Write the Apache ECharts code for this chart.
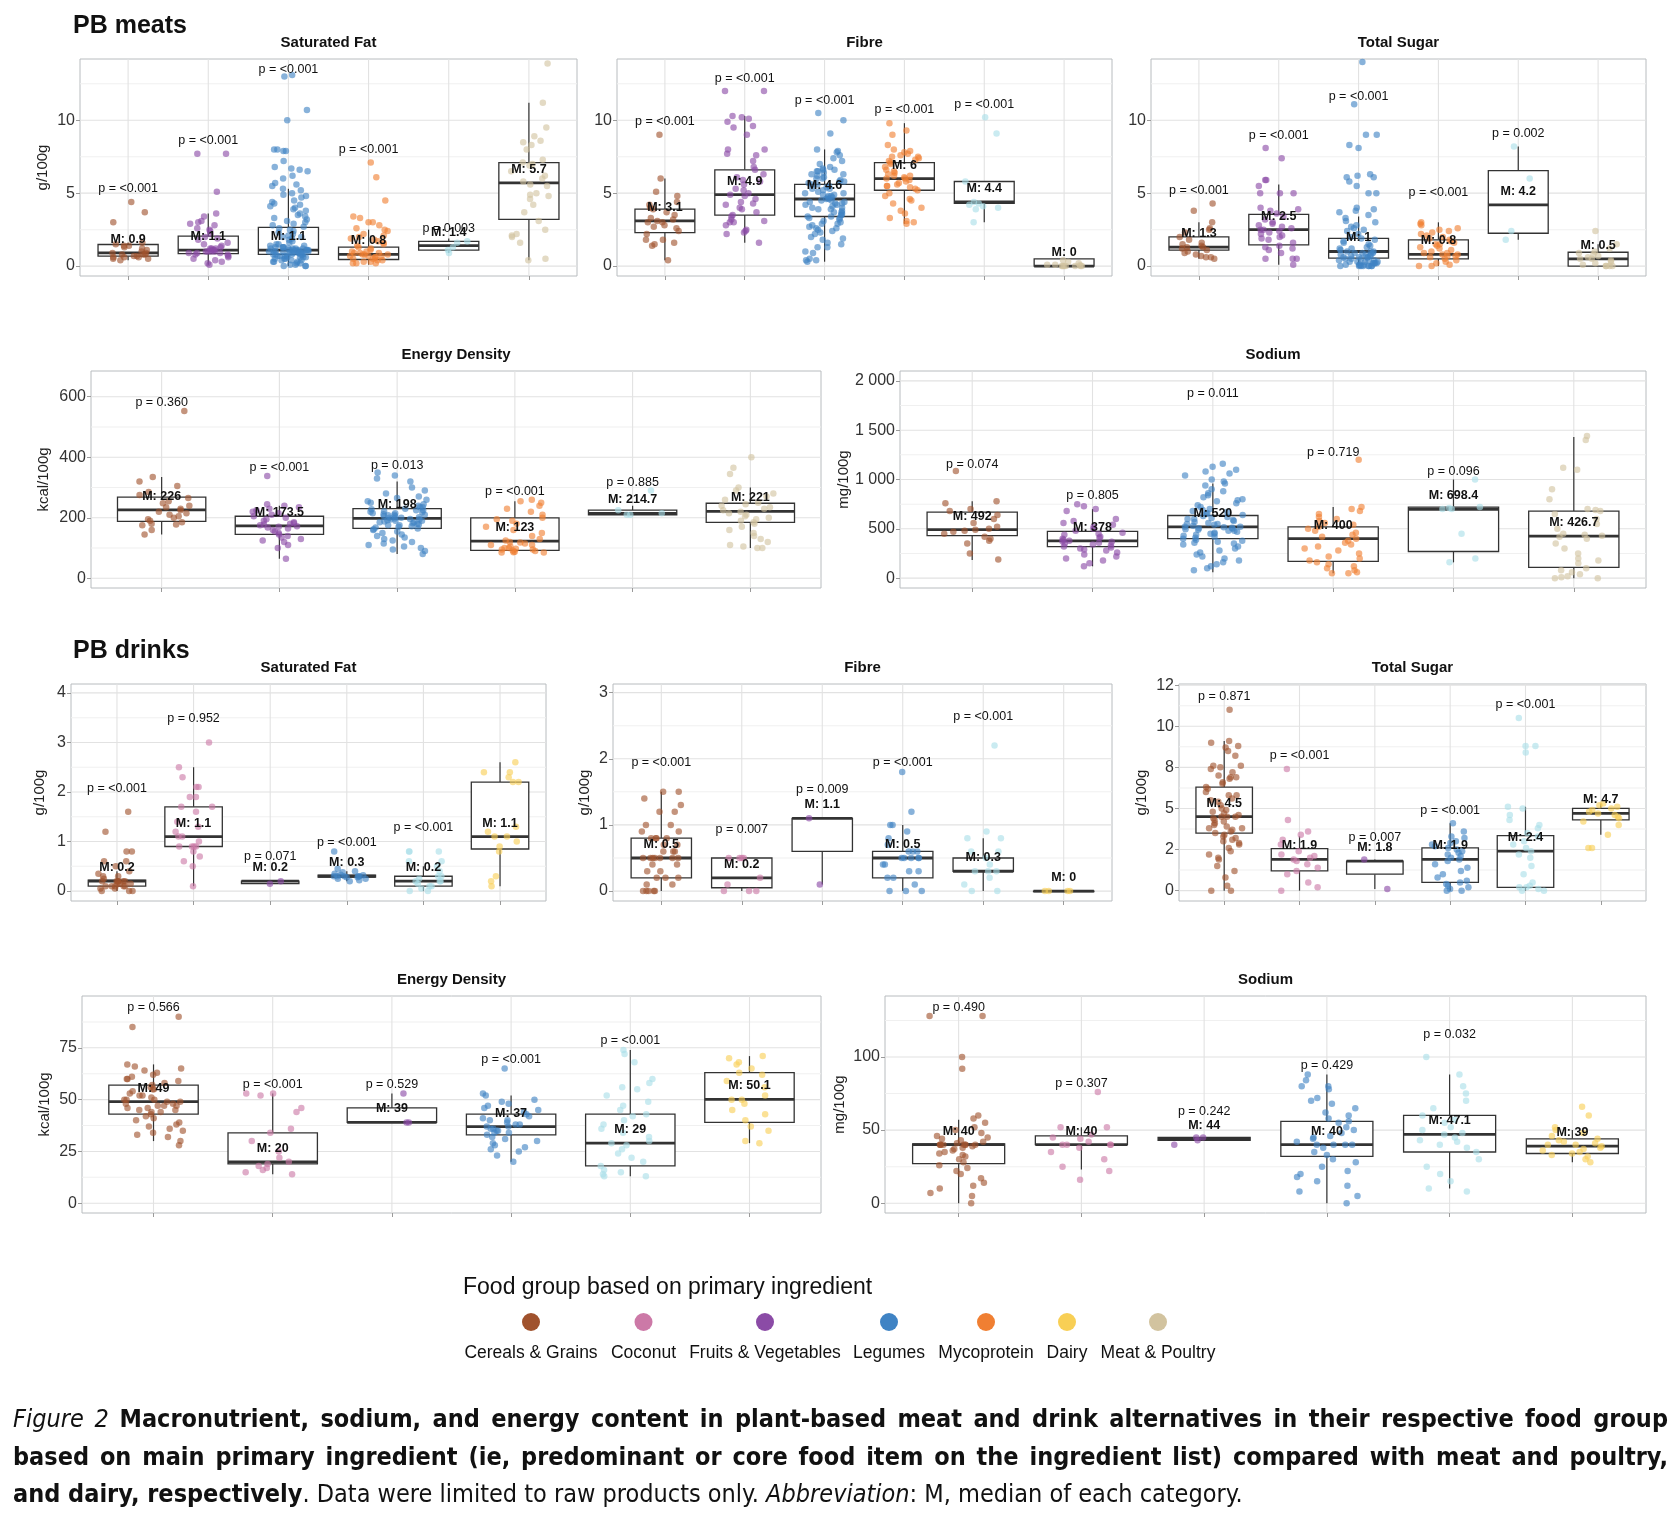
<!DOCTYPE html>
<html><head><meta charset="utf-8">
<script src="https://cdn.jsdelivr.net/npm/echarts@6/dist/echarts.min.js"></script>
<style>
html,body{margin:0;padding:0;background:#fff;}
#chart{position:absolute;left:0;top:0;width:1676px;height:1538px;}
#caption{position:absolute;left:13px;top:1400px;width:1655px;font-family:"DejaVu Sans Condensed","Liberation Sans Narrow","Roboto Condensed","DejaVu Sans",sans-serif;font-stretch:condensed;font-size:25px;line-height:37.5px;color:#111;}
#caption .cl{white-space:nowrap;}
#caption b{font-weight:bold;}
#caption i{font-style:italic;}
</style></head><body>
<div id="chart"></div>
<div id="caption">
<div class="cl j"><i>Figure 2</i> <b>Macronutrient, sodium, and energy content in plant-based meat and drink alternatives in their respective food group</b></div>
<div class="cl j"><b>based on main primary ingredient (ie, predominant or core food item on the ingredient list) compared with meat and poultry,</b></div>
<div class="cl"><b>and dairy, respectively</b>. Data were limited to raw products only. <i>Abbreviation</i>: M, median of each category.</div>
</div>
<script>
// ---------------- DATA ----------------
const meatGroups = ['Cereals & Grains','Fruits & Vegetables','Legumes','Mycoprotein','Nuts & Seeds','Meat & Poultry'];
const drinkGroups = ['Cereals & Grains','Coconut','Fruits & Vegetables','Legumes','Nuts & Seeds','Dairy'];
const legendGroups = ['Cereals & Grains','Coconut','Fruits & Vegetables','Legumes','Mycoprotein','Dairy','Meat & Poultry'];

// box stats: [lower whisker, Q1, median, Q3, upper whisker]
const meatSatFatBox = [[0.4,0.68,0.9,1.48,1.6],[0.1,0.85,1.1,2.05,3.6],[0,0.8,1.1,2.65,5.3],[0.1,0.45,0.8,1.3,2.5],[0.9,1.1,1.4,1.7,1.9],[0.4,3.2,5.7,7.1,11.2]];
const meatSatFatPts = [
 [4.4,3.7,3.0,1.6,1.5,1.4,1.3,1.2,1.1,1.0,0.9,0.9,0.8,0.8,0.7,0.7,0.6,0.6,0.5,0.5,0.4,0.8,1.4,0.6],
 [7.7,7.7,5.1,3.6,3.4,3.1,3.0,2.9,2.8,2.6,2.5,2.4,2.2,2.0,1.9,1.8,1.6,1.5,1.4,1.3,1.2,1.2,1.1,1.1,1.1,1.0,1.0,1.0,0.9,0.9,0.9,0.8,0.8,0.7,0.6,0.5,0.4,0.3,0.2,0.1,1.0,1.2],
 [13.1,13.0,10.7,10.0,8.0,8.0,7.9,7.9,7.2,6.8,6.7,6.6,6.5,6.2,6.0,5.7,5.6,5.5,5.3,5.2,5.0,4.9,4.8,4.7,4.5,4.4,4.3,4.2,4.1,4.0,3.9,3.8,3.6,3.5,3.4,3.3,3.2,3.1,3.0,2.9,2.8,2.7,2.6,2.5,2.4,2.3,2.2,2.1,2.0,2.0,1.9,1.8,1.7,1.6,1.5,1.5,1.4,1.4,1.3,1.3,1.3,1.2,1.2,1.2,1.2,1.1,1.1,1.1,1.1,1.1,1.0,1.0,1.0,1.0,1.0,1.0,0.9,0.9,0.9,0.9,0.9,0.8,0.8,0.8,0.8,0.8,0.7,0.7,0.7,0.7,0.6,0.6,0.6,0.6,0.5,0.5,0.5,0.4,0.4,0.4,0.3,0.3,0.3,0.2,0.2,0.1,0.1,0.0,0.0,0.0,1.1,1.0,0.9,1.2,1.3,0.8,1.1,1.0],
 [7.1,6.1,4.5,3.4,3.3,3.0,3.0,2.8,2.6,2.5,2.4,2.2,2.1,2.0,1.9,1.8,1.7,1.6,1.5,1.4,1.3,1.2,1.1,1.0,1.0,0.9,0.9,0.8,0.8,0.8,0.7,0.7,0.6,0.6,0.5,0.5,0.4,0.4,0.3,0.3,0.2,0.2,0.2,0.9,0.7],
 [1.7,1.6,1.3,1.1,0.9],
 [13.9,11.2,9.5,8.9,8.6,8.5,8.3,8.0,7.3,7.1,7.0,6.9,6.5,6.2,6.0,5.8,5.6,5.5,5.0,4.9,4.8,4.6,4.2,3.7,3.1,2.5,2.2,2.1,2.0,1.6,0.5,0.4]
];
const meatSatFatP = ['p = <0.001','p = <0.001','p = <0.001','p = <0.001','p = 0.003',''];
const meatSatFatPAt = [5.35,8.6,13.45,8.0,2.55,null];

const meatFibreBox = [[0.4,2.3,3.1,3.9,6.0],[1.6,3.5,4.9,6.6,10.3],[0.3,3.4,4.6,5.6,8.0],[2.9,5.2,6.0,7.1,9.8],[3.0,4.3,4.4,5.8,5.8],[0,0,0,0.5,0.5]];
const meatFibrePts = [
 [9.0,6.0,5.1,4.8,4.4,4.2,4.0,3.9,3.7,3.5,3.3,3.2,3.1,3.0,3.0,2.8,2.7,2.6,2.4,2.2,1.8,1.8,1.6,1.5,1.4,0.4],
 [12.0,12.0,10.3,10.2,10.1,9.9,9.6,9.5,9.0,8.0,8.0,7.7,7.6,7.2,6.8,6.6,6.3,6.1,5.9,5.6,5.3,5.2,5.0,4.9,4.8,4.6,4.4,4.2,4.0,3.9,3.7,3.5,3.4,3.2,3.1,3.0,3.0,2.8,2.5,2.4,2.3,2.2,1.6,4.3,5.8],
 [10.5,10.0,9.1,8.0,7.9,7.8,7.6,7.4,7.2,7.0,6.8,6.7,6.6,6.5,6.5,6.4,6.3,6.2,6.1,6.0,6.0,5.9,5.8,5.7,5.6,5.6,5.5,5.4,5.3,5.2,5.1,5.0,5.0,4.9,4.9,4.8,4.7,4.7,4.6,4.6,4.5,4.5,4.4,4.4,4.3,4.2,4.2,4.1,4.0,4.0,3.9,3.8,3.7,3.7,3.6,3.5,3.5,3.4,3.3,3.3,3.2,3.1,3.0,2.9,2.8,2.7,2.6,2.5,2.4,2.3,2.2,2.0,1.9,1.8,1.6,1.5,1.3,1.3,1.0,0.9,0.5,0.4,0.4,0.3,6.6,6.3,5.8,5.3,4.8,4.3,3.9,3.4,2.9,2.6],
 [9.8,9.3,9.0,8.3,8.0,7.9,7.8,7.7,7.6,7.5,7.4,7.3,7.2,7.1,7.0,6.8,6.6,6.5,6.4,6.3,6.2,6.1,6.0,6.0,5.9,5.8,5.7,5.6,5.5,5.4,5.3,5.2,5.0,4.8,4.6,4.5,4.3,4.0,3.8,3.6,3.3,3.1,3.0,2.9,6.2,5.5,7.5],
 [10.2,9.1,5.8,4.4,4.3,4.2,4.1,4.0,3.9,3.0],
 [0.4,0.3,0.2,0.1,0.1,0,0,0,0,0,0,0,0.05]
];
const meatFibreP = ['p = <0.001','p = <0.001','p = <0.001','p = <0.001','p = <0.001',''];
const meatFibrePAt = [9.9,12.85,11.35,10.7,11.05,null];

const meatSugarBox = [[0.5,1.1,1.3,2.0,3.0],[0.1,1.45,2.5,3.55,5.6],[0,0.55,1.0,1.9,3.4],[0,0.5,0.8,1.8,3.0],[1.8,2.25,4.2,6.55,8.2],[0,0,0.5,0.95,1.5]];
const meatSugarPts = [
 [4.3,3.8,3.0,2.6,2.5,2.3,2.0,1.8,1.6,1.5,1.4,1.3,1.3,1.2,1.1,1.0,0.9,0.8,0.7,0.6,0.6,0.5],
 [8.1,7.4,5.9,5.9,5.5,5.0,5.0,5.0,4.0,3.9,3.8,3.6,3.4,3.2,3.0,2.9,2.8,2.7,2.6,2.5,2.5,2.4,2.3,2.2,2.1,2.0,1.9,1.8,1.6,1.4,1.3,1.2,1.1,0.9,0.5,0.5,0.5,0.1],
 [14.0,11.1,9.0,9.0,8.3,8.1,6.3,6.2,6.1,6.1,5.8,5.5,5.0,5.0,4.0,3.9,3.8,3.7,3.5,3.3,3.1,3.0,2.8,2.7,2.6,2.5,2.4,2.2,2.0,1.9,1.8,1.7,1.6,1.5,1.4,1.3,1.2,1.1,1.0,1.0,0.9,0.9,0.8,0.8,0.7,0.7,0.6,0.6,0.5,0.5,0.4,0.4,0.3,0.3,0.2,0.2,0.1,0.1,0,0,0,0,0,0,0,0.1,0.2,0.3,0.5,0.6,0.8,1.0,1.2,0.4,0.2,0.1,0,0.3,0.6,0.9],
 [3.0,2.9,2.8,2.6,2.5,2.4,2.3,2.2,2.0,1.9,1.8,1.7,1.6,1.5,1.4,1.3,1.2,1.1,1.0,0.9,0.9,0.8,0.8,0.7,0.6,0.5,0.4,0.3,0.2,0.1,0,0,2.1,1.5,0.7],
 [8.2,6.0,2.4,1.8],
 [2.4,1.5,1.2,1.0,0.9,0.8,0.7,0.6,0.5,0.5,0.4,0.3,0.2,0.1,0,0,0,0]
];
const meatSugarP = ['p = <0.001','p = <0.001','p = <0.001','p = <0.001','p = 0.002',''];
const meatSugarPAt = [5.15,8.95,11.6,5.05,9.1,null];

const meatEnergyBox = [[145,188,226,268,335],[65,145,173.5,205,240],[80,165,198,230,320],[85,92,123,200,255],[210,210,214.7,225,240],[100,185,221,248,300]];
const meatEnergyPts = [
 [553,335,320,305,285,275,265,255,248,240,235,230,225,220,215,210,205,200,195,190,185,180,178,175,160,145],
 [338,245,240,235,230,225,220,215,210,205,200,195,190,185,180,178,175,172,170,165,160,155,150,145,140,135,130,125,120,110,100,65,168,182],
 [350,340,330,320,300,290,280,270,265,260,255,250,245,240,235,230,228,225,222,220,218,215,212,210,208,205,202,200,198,196,194,192,190,188,185,182,180,178,175,172,170,168,165,162,160,155,150,145,140,135,130,125,120,115,110,105,100,95,90,80,215,205,195,185,175,225,235,200,190,210],
 [260,255,250,240,230,220,210,200,195,190,180,170,160,150,140,130,125,120,118,115,110,105,100,98,95,92,90,88,86,85,85,95,100,110],
 [290,225,215,210,210],
 [400,365,345,300,290,280,270,260,250,245,240,235,230,225,220,215,210,205,200,195,190,185,180,170,160,150,140,130,120,110,105,100,100]
];
const meatEnergyP = ['p = 0.360','p = <0.001','p = 0.013','p = <0.001','p = 0.885',''];
const meatEnergyPAt = [582,366,372,286,316,null];

const meatSodiumBox = [[185,430,492,670,780],[120,320,378,475,700],[60,400,520,635,960],[50,170,400,520,720],[160,270,698.4,720,1000],[0,110,426.7,680,1430]];
const meatSodiumPts = [
 [1085,780,760,700,680,640,600,560,520,500,490,480,470,450,420,400,380,350,250,190],
 [750,730,700,680,600,580,560,540,520,500,480,460,450,440,420,410,400,390,380,375,370,360,350,340,330,320,310,300,290,280,260,240,220,200,180,150,120],
 [1160,1130,1100,1080,1060,1040,1000,980,960,940,900,880,860,840,820,800,790,780,760,740,720,700,690,680,670,660,650,640,630,620,610,600,590,580,570,560,550,540,530,520,515,510,505,500,495,490,480,470,460,450,440,430,420,410,400,390,380,370,360,350,340,320,300,280,260,240,220,200,180,160,140,120,100,80,550,520,480,600,450],
 [1200,720,700,680,650,620,600,580,560,540,520,500,480,460,440,420,400,380,360,340,320,300,280,250,220,200,180,160,140,120,100,80,60,50,50],
 [1000,720,710,700,700,450,200,160],
 [1440,1400,1120,1100,900,800,700,690,680,650,600,550,500,450,440,430,420,400,350,300,250,200,180,150,100,80,60,40,20,10,0,0]
];
const meatSodiumP = ['p = 0.074','p = 0.805','p = 0.011','p = 0.719','p = 0.096',''];
const meatSodiumPAt = [1155,842,1876,1278,1081,null];

const drinkSatFatBox = [[0,0.1,0.2,0.22,0.4],[0.1,0.9,1.1,1.7,2.5],[0.15,0.15,0.2,0.2,0.2],[0.2,0.28,0.3,0.32,0.4],[0,0.1,0.2,0.3,0.5],[0.1,0.85,1.1,2.2,2.6]];
const drinkSatFatPts = [
 [1.6,1.2,0.8,0.8,0.6,0.6,0.5,0.4,0.35,0.3,0.3,0.25,0.2,0.2,0.2,0.2,0.15,0.15,0.1,0.1,0.1,0.1,0.05,0.05,0,0,0,0.2,0.15,0.1,0.2],
 [3.0,2.5,2.3,2.1,2.1,1.9,1.9,1.7,1.7,1.6,1.4,1.3,1.2,1.1,1.1,1.0,0.9,0.9,0.9,0.9,0.8,0.7,0.6,0.5,0.1],
 [0.2,0.15],
 [0.8,0.45,0.4,0.38,0.35,0.33,0.32,0.3,0.3,0.3,0.3,0.3,0.28,0.28,0.25,0.25,0.22,0.2],
 [0.8,0.8,0.8,0.6,0.6,0.5,0.4,0.3,0.3,0.25,0.2,0.2,0.2,0.15,0.1,0.1,0.05,0,0],
 [2.6,2.4,2.4,2.3,2.2,2.2,1.3,1.2,1.1,1.1,1.0,0.9,0.8,0.3,0.2,0.1]
];
const drinkSatFatP = ['p = <0.001','p = 0.952','p = 0.071','p = <0.001','p = <0.001',''];
const drinkSatFatPAt = [2.07,3.49,0.7,0.98,1.29,null];

const drinkFibreBox = [[0,0.2,0.5,0.8,1.5],[0,0.05,0.2,0.5,0.5],[0.1,0.6,1.1,1.1,1.1],[0,0.2,0.5,0.6,1.0],[0,0.3,0.3,0.5,0.8],[0,0,0,0,0]];
const drinkFibrePts = [
 [1.5,1.5,1.4,1.3,1.2,1.2,1.0,1.0,0.9,0.9,0.8,0.8,0.8,0.8,0.7,0.7,0.6,0.6,0.6,0.5,0.5,0.5,0.5,0.5,0.4,0.4,0.3,0.3,0.2,0.2,0.2,0.1,0.1,0,0,0,0,0,0.5,0.5],
 [0.5,0.5,0.5,0.5,0.2,0.1,0,0,0],
 [1.1,0.1],
 [1.8,1.2,1.0,1.0,0.9,0.8,0.7,0.6,0.6,0.6,0.5,0.5,0.5,0.5,0.5,0.4,0.4,0.3,0.3,0.2,0.2,0.1,0,0,0],
 [2.2,0.9,0.8,0.8,0.6,0.6,0.5,0.4,0.3,0.3,0.3,0.2,0.1,0,0],
 [0,0,0,0]
];
const drinkFibreP = ['p = <0.001','p = 0.007','p = 0.009','p = <0.001','p = <0.001',''];
const drinkFibrePAt = [1.94,0.93,1.53,1.94,2.64,null];

const drinkSugarBox = [[0,3.5,4.5,6.3,9.1],[0,1.2,1.9,2.55,3.3],[0.1,1.0,1.8,1.8,1.9],[0,0.5,1.9,2.6,4.1],[0,0.2,2.4,3.35,5.1],[3.4,4.3,4.7,5.0,5.3]];
const drinkSugarPts = [
 [11.0,9.1,9.0,8.8,8.7,8.5,8.2,7.6,7.6,7.5,7.4,7.2,7.0,6.9,6.8,6.6,6.5,6.3,6.2,6.0,5.8,5.6,5.5,5.4,5.2,5.0,4.9,4.8,4.7,4.6,4.5,4.5,4.4,4.3,4.2,4.1,4.0,3.9,3.8,3.7,3.6,3.5,3.4,3.3,3.2,3.1,3.0,2.9,2.8,2.6,2.4,2.2,2.0,1.9,1.5,1.2,0.8,0.3,0,0,4.5,3.8,5.8,6.9],
 [7.4,4.3,3.6,3.4,3.1,2.8,2.4,2.2,2.1,2.0,1.9,1.8,1.6,1.4,1.2,1.0,0.5,0.2,0],
 [1.9,0.1],
 [4.1,3.6,3.3,3.2,3.0,2.9,2.8,2.7,2.6,2.5,2.4,2.3,2.2,2.1,2.0,1.9,1.8,1.6,1.4,1.2,1.0,0.8,0.6,0.5,0.4,0.3,0.2,0.1,0,0],
 [10.5,8.8,8.8,8.4,5.1,5.0,4.6,4.3,4.0,3.8,3.5,3.3,3.0,2.8,2.6,2.4,2.2,2.0,1.5,1.0,0.5,0.3,0.2,0.2,0.1,0,0],
 [5.3,5.2,5.1,5.0,4.9,4.8,4.7,4.6,4.5,4.4,4.2,4.0,3.4,2.6,2.6]
];
const drinkSugarP = ['p = 0.871','p = <0.001','p = 0.007','p = <0.001','p = <0.001',''];
const drinkSugarPAt = [11.8,8.2,3.2,4.9,11.3,null];

const drinkEnergyBox = [[30,43,49,57,67],[14,19,20,34,53],[39,39,39,46,53],[20,33,37,43,52],[13,18,29,43,74],[29,39,50.1,63,71]];
const drinkEnergyPts = [
 [90,85,67,66,65,64,63,62,61,60,59,58,57,56,55,54,53,52,51,50,50,49,49,48,48,47,47,46,46,45,45,44,44,43,42,41,40,39,38,37,36,35,34,33,32,30,28,50,52,47,55,60],
 [53,53,52,46,44,36,34,30,25,22,20,19,18,17,16,15,14],
 [53,39,39],
 [65,53,52,50,49,48,47,46,45,44,43,42,41,40,40,39,38,38,37,37,36,36,35,35,34,34,33,32,31,30,29,28,27,26,25,23,20],
 [74,72,68,60,58,56,55,52,49,47,45,43,42,40,38,36,34,32,30,29,28,26,24,22,20,18,16,15,14,13,13],
 [71,70,68,67,65,63,62,59,56,52,50,50,48,45,43,40,37,35,30,29]
];
const drinkEnergyP = ['p = 0.566','p = <0.001','p = 0.529','p = <0.001','p = <0.001',''];
const drinkEnergyPAt = [94.4,57.3,57.3,69.4,78.5,null];

const drinkSodiumBox = [[0,27,40,40.5,57],[23,40,40,46,52],[43,43,44,45,45],[0,32,40,56,88],[10,35,47.1,60,88],[28,34,39,44,50]];
const drinkSodiumPts = [
 [128,128,100,92,60,58,55,52,50,48,46,45,44,43,42,41,40,40,40,40,40,39,38,37,36,35,34,33,32,30,28,26,24,22,20,17,14,12,10,7,5,0,40,40,40],
 [76,52,52,47,45,44,42,40,40,40,40,38,35,30,25,22,16],
 [45,45,43,40],
 [88,84,80,80,78,72,70,68,65,62,60,58,56,55,52,50,48,46,45,44,42,40,40,40,40,38,35,33,30,28,25,22,20,18,15,12,8,5,0],
 [100,88,80,75,70,65,60,57,55,52,50,48,47,45,43,42,40,38,35,30,25,20,15,10,8],
 [66,60,52,50,48,46,44,43,42,41,40,40,39,38,37,36,35,34,33,32,30,28]
];
const drinkSodiumP = ['p = 0.490','p = 0.307','p = 0.242','p = 0.429','p = 0.032',''];
const drinkSodiumPAt = [134,81.8,62.5,94.3,115,null];

// axis ticks / labels
const gTicks = [0,5,10];
const meatEnergyTicks = [0,200,400,600];
const meatSodiumTicks = [0,500,1000,1500,2000];
const drinkSatFatTicks = [0,1,2,3,4];
const drinkFibreTicks = [0,1,2,3];
const drinkSugarTicks = [0,2.5,5,7.5,10,12.5];
const drinkSugarTickLabels = ['0','2','5','8','10','12'];
const drinkEnergyTicks = [0,25,50,75];
const drinkSodiumTicks = [0,50,100];

// ---------------- STYLE / LAYOUT ----------------
const groupColor = {
  'Cereals & Grains':'#A0522D','Coconut':'#CC79A7','Fruits & Vegetables':'#8B4BA6',
  'Legumes':'#3F83C4','Mycoprotein':'#F07F32','Dairy':'#F8CF55',
  'Meat & Poultry':'#D2C39F','Nuts & Seeds':'#A9DFE8'
};
const FONT = '"Liberation Sans", Arial, Helvetica, sans-serif';

function sodiumFmt(v){ return v >= 1000 ? Math.floor(v/1000) + ' ' + String(v%1000).padStart(3,'0') : String(v); }

const panels = [
 {title:'Saturated Fat', unit:'g/100g', showName:true, groups:meatGroups, box:meatSatFatBox, pts:meatSatFatPts, p:meatSatFatP, pAt:meatSatFatPAt, yMin:-0.68, yMax:14.2, ticks:gTicks, rect:[80,59,497,217], nameGap:30},
 {title:'Fibre', unit:'g/100g', showName:false, groups:meatGroups, box:meatFibreBox, pts:meatFibrePts, p:meatFibreP, pAt:meatFibrePAt, yMin:-0.68, yMax:14.2, ticks:gTicks, rect:[617,59,495,217], nameGap:30},
 {title:'Total Sugar', unit:'g/100g', showName:false, groups:meatGroups, box:meatSugarBox, pts:meatSugarPts, p:meatSugarP, pAt:meatSugarPAt, yMin:-0.68, yMax:14.2, ticks:gTicks, rect:[1151,59,495,217], nameGap:30},
 {title:'Energy Density', unit:'kcal/100g', showName:true, groups:meatGroups, box:meatEnergyBox, pts:meatEnergyPts, p:meatEnergyP, pAt:meatEnergyPAt, yMin:-32, yMax:685, ticks:meatEnergyTicks, rect:[91,371,730,217], nameGap:40},
 {title:'Sodium', unit:'mg/100g', showName:true, groups:meatGroups, box:meatSodiumBox, pts:meatSodiumPts, p:meatSodiumP, pAt:meatSodiumPAt, yMin:-100, yMax:2100, ticks:meatSodiumTicks, fmt:sodiumFmt, rect:[900,371,746,217], nameGap:46},
 {title:'Saturated Fat', unit:'g/100g', showName:true, groups:drinkGroups, box:drinkSatFatBox, pts:drinkSatFatPts, p:drinkSatFatP, pAt:drinkSatFatPAt, yMin:-0.2, yMax:4.18, ticks:drinkSatFatTicks, rect:[71,684,475,217], nameGap:24},
 {title:'Fibre', unit:'g/100g', showName:true, groups:drinkGroups, box:drinkFibreBox, pts:drinkFibrePts, p:drinkFibreP, pAt:drinkFibrePAt, yMin:-0.15, yMax:3.13, ticks:drinkFibreTicks, rect:[613,684,499,217], nameGap:21},
 {title:'Total Sugar', unit:'g/100g', showName:true, groups:drinkGroups, box:drinkSugarBox, pts:drinkSugarPts, p:drinkSugarP, pAt:drinkSugarPAt, yMin:-0.63, yMax:12.57, ticks:drinkSugarTicks, labels:drinkSugarTickLabels, rect:[1179,684,467,217], nameGap:30},
 {title:'Energy Density', unit:'kcal/100g', showName:true, groups:drinkGroups, box:drinkEnergyBox, pts:drinkEnergyPts, p:drinkEnergyP, pAt:drinkEnergyPAt, yMin:-4.7, yMax:100, ticks:drinkEnergyTicks, rect:[82,996,739,217], nameGap:30},
 {title:'Sodium', unit:'mg/100g', showName:true, groups:drinkGroups, box:drinkSodiumBox, pts:drinkSodiumPts, p:drinkSodiumP, pAt:drinkSodiumPAt, yMin:-6.7, yMax:141.7, ticks:drinkSodiumTicks, rect:[885,996,761,217], nameGap:38}
];

function jitter(k, i, j){
  const s = Math.sin((k*131.7 + i*17.3 + j*7.13 + 1.1) * 12.9898) * 43758.5453;
  return ((s - Math.floor(s)) - 0.5) * 0.5;
}
function fmtMedian(v){ return 'M: ' + String(+v.toFixed(1)); }

function minorsOf(ticks, lo, hi){
  const out = [];
  const step = ticks[1]-ticks[0];
  const all = [ticks[0]-step].concat(ticks, [ticks[ticks.length-1]+step]);
  for (let a=0; a<all.length-1; a++){ const m=(all[a]+all[a+1])/2; if (m>lo && m<hi) out.push(m); }
  return out;
}

const grids=[], xAxes=[], yAxes=[], series=[], graphics=[];

panels.forEach((pn, k) => {
  const [L,T,W,H] = pn.rect;
  grids.push({left:L, top:T, width:W, height:H, show:true, borderColor:'#b8bcbf', borderWidth:1, backgroundColor:'#ffffff'});
  xAxes.push({gridIndex:k, type:'value', position:'bottom', min:-0.6, max:5.6, axisLine:{show:false, onZero:false}, axisLabel:{show:false}, splitLine:{show:false},
    axisTick:{show:true, customValues:[0,1,2,3,4,5], length:4, lineStyle:{color:'#9a9a9a'}}});
  yAxes.push({gridIndex:k, type:'value', position:'left', min:pn.yMin, max:pn.yMax,
    name: pn.showName ? pn.unit : '', nameLocation:'middle', nameGap:pn.nameGap, nameRotate:90,
    nameTextStyle:{fontFamily:FONT, fontSize:15, color:'#222'},
    axisLine:{show:false, onZero:false}, splitLine:{show:false},
    axisTick:{show:true, customValues:pn.ticks, length:4, lineStyle:{color:'#9a9a9a'}},
    axisLabel:{customValues:pn.ticks, fontFamily:FONT, fontSize:16, color:'#333', margin:5,
      formatter:(v)=>{ if (pn.labels){ const ix = pn.ticks.indexOf(v); return ix>=0 ? pn.labels[ix] : ''; } return pn.fmt ? pn.fmt(v) : String(v); }}});

  // background grid lines drawn as thin filled rects
  const majors = pn.ticks, minors = minorsOf(pn.ticks, pn.yMin, pn.yMax);
  series.push({type:'custom', xAxisIndex:k, yAxisIndex:k, z:1, silent:true, data:[[2.5, (pn.yMin+pn.yMax)/2]],
    renderItem:(params, api) => {
      const ch = [];
      const xl = api.coord([-0.6, pn.yMin])[0], xr = api.coord([5.6, pn.yMin])[0];
      const yb = api.coord([0, pn.yMin])[1], yt = api.coord([0, pn.yMax])[1];
      minors.forEach(v => { const y = api.coord([0,v])[1]; ch.push({type:'rect', shape:{x:xl, y:y-0.5, width:xr-xl, height:1}, style:{fill:'#f0f0f0'}}); });
      for (let c=0;c<6;c++){ const x = api.coord([c, 0])[0]; ch.push({type:'rect', shape:{x:x-0.55, y:yt, width:1.1, height:yb-yt}, style:{fill:'#e2e2e2'}}); }
      majors.forEach(v => { const y = api.coord([0,v])[1]; ch.push({type:'rect', shape:{x:xl, y:y-0.55, width:xr-xl, height:1.1}, style:{fill:'#e2e2e2'}}); });
      return {type:'group', children:ch};
    }});

  series.push({type:'custom', xAxisIndex:k, yAxisIndex:k, z:2, silent:true,
    data: pn.box.map((b,i)=>[i].concat(b)), encode:{x:0, y:[1,2,3,4,5]},
    renderItem:(params, api) => {
      const i = api.value(0);
      const pLo = api.coord([i, api.value(1)]), pQ1 = api.coord([i, api.value(2)]), pMd = api.coord([i, api.value(3)]);
      const pQ3 = api.coord([i, api.value(4)]), pHi = api.coord([i, api.value(5)]);
      const half = api.size([0.75, 0])[0] / 2, cx = pMd[0];
      return {type:'group', children:[
        {type:'line', shape:{x1:cx,y1:pHi[1],x2:cx,y2:pQ3[1]}, style:{stroke:'#333', lineWidth:1.2}},
        {type:'line', shape:{x1:cx,y1:pQ1[1],x2:cx,y2:pLo[1]}, style:{stroke:'#333', lineWidth:1.2}},
        {type:'rect', shape:{x:cx-half, y:pQ3[1], width:2*half, height:Math.max(pQ1[1]-pQ3[1],0.5)}, style:{fill:'#fff', stroke:'#333', lineWidth:1.3}},
        {type:'line', shape:{x1:cx-half,y1:pMd[1],x2:cx+half,y2:pMd[1]}, style:{stroke:'#333', lineWidth:2.8}}
      ]};
    }});

  pn.groups.forEach((g, i) => {
    series.push({type:'scatter', xAxisIndex:k, yAxisIndex:k, z:3, silent:true, symbolSize:6.5,
      itemStyle:{color:groupColor[g], opacity:0.62}, data: pn.pts[i].map((v,j)=>[i + jitter(k,i,j), v])});
  });

  const range = pn.yMax - pn.yMin;
  const labs = [];
  pn.box.forEach((b,i) => {
    labs.push({x:i, y:b[2] + 0.062*range, text:fmtMedian(b[2]), bold:true});
    if (pn.p[i]) labs.push({x:i, y:pn.pAt[i], text:pn.p[i], bold:false});
  });
  series.push({type:'custom', xAxisIndex:k, yAxisIndex:k, z:4, silent:true, data:labs.map(l=>[l.x,l.y]),
    renderItem:(params, api) => {
      const l = labs[params.dataIndex];
      const pt = api.coord([l.x, l.y]);
      return {type:'text', x:pt[0], y:pt[1], style:{text:l.text, fill:'#111', fontFamily:FONT, fontSize:12.5, fontWeight:l.bold?'bold':'normal', align:'center', verticalAlign:'middle'}};
    }});

  graphics.push({type:'text', x:L+W/2, y:T-16, style:{text:pn.title, fill:'#111', font:'bold 15px '+FONT, align:'center', verticalAlign:'middle', textAlign:'center', textVerticalAlign:'middle'}});
});

graphics.push({type:'text', x:73, y:26, style:{text:'PB meats', fill:'#111', font:'bold 25px '+FONT, align:'left', verticalAlign:'middle', textAlign:'left', textVerticalAlign:'middle'}});
graphics.push({type:'text', x:73, y:651, style:{text:'PB drinks', fill:'#111', font:'bold 25px '+FONT, align:'left', verticalAlign:'middle', textAlign:'left', textVerticalAlign:'middle'}});

// legend
graphics.push({type:'text', x:463, y:1288, style:{text:'Food group based on primary ingredient', fill:'#111', font:'23px '+FONT, align:'left', verticalAlign:'middle', textAlign:'left', textVerticalAlign:'middle'}});
const legendCenters = [531, 643.5, 765, 889, 986, 1067, 1158];
legendGroups.forEach((g, i) => {
  graphics.push({type:'circle', shape:{cx:legendCenters[i], cy:1322, r:9}, style:{fill:groupColor[g]}});
  graphics.push({type:'text', x:legendCenters[i], y:1353, style:{text:g, fill:'#111', font:'17.5px '+FONT, align:'center', verticalAlign:'middle', textAlign:'center', textVerticalAlign:'middle'}});
});

const chart = echarts.init(document.getElementById('chart'), null, {renderer:'canvas'});
chart.setOption({
  animation:false, backgroundColor:'#fff',
  grid:grids, xAxis:xAxes, yAxis:yAxes, series:series, graphic:graphics
});

// caption fitting: justify first two lines
(function(){
  const lines = document.querySelectorAll('#caption .cl');
  const target = 1655;
  lines.forEach(el => { el.style.display='inline-block'; });
  let ls = 0;
  const w0 = lines[0].getBoundingClientRect().width;
  if (w0 > target) { const chars = lines[0].textContent.length; ls = (target - w0)/chars; }
  lines.forEach(el => { el.style.letterSpacing = ls + 'px'; });
  lines.forEach((el, idx) => {
    if (el.classList.contains('j')) {
      const w = el.getBoundingClientRect().width;
      const n = (el.textContent.match(/ /g) || []).length;
      if (n > 0) el.style.wordSpacing = ((target - w)/n) + 'px';
    }
    el.style.display='block';
  });
})();
</script>
</body></html>
